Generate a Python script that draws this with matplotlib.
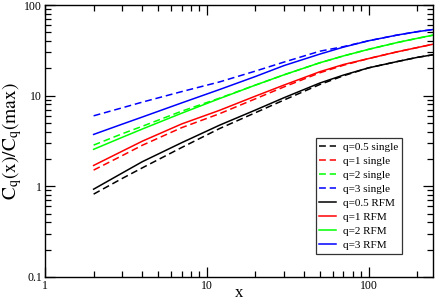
import matplotlib
matplotlib.use("Agg")
import matplotlib.pyplot as plt
from matplotlib.ticker import LogLocator, NullFormatter, FuncFormatter

plt.rcParams['font.family'] = ['Liberation Serif', 'DejaVu Serif']
plt.rcParams['mathtext.fontset'] = 'stix'

# values
x = [2, 3, 4, 7, 12, 20, 30, 50, 70, 100, 150, 200, 250]

single_05 = [0.82, 1.22, 1.60, 2.68, 4.34, 6.5, 8.96, 13.3, 16.6, 20.3, 23.8, 26.5, 28.3]
single_1 = [1.51, 2.18, 2.84, 4.44, 6.33, 9.25, 12.5, 17.9, 21.7, 25.7, 30.5, 34, 37]
single_2 = [2.85, 3.8, 4.6, 6.75, 9.4, 13.1, 17.0, 23.1, 27.5, 32.5, 38.6, 43, 46.6]
single_3 = [6.0, 7.35, 8.5, 11.1, 14.2, 18.7, 23.5, 31.0, 34.8, 40.4, 46.7, 50.9, 53.8]

rfm_05 = [0.93, 1.40, 1.87, 3.03, 4.73, 6.95, 9.5, 13.8, 16.9, 20.3, 23.8, 26.5, 28.3]
rfm_1 = [1.70, 2.44, 3.15, 4.88, 6.9, 9.9, 13.1, 18.4, 22.1, 25.7, 30.5, 34, 37]
rfm_2 = [2.56, 3.47, 4.29, 6.41, 9.3, 13.1, 17.0, 23.1, 27.5, 32.5, 38.6, 43, 46.6]
rfm_3 = [3.74, 4.85, 5.82, 8.33, 11.7, 16.3, 21.5, 28.8, 34.4, 40.4, 46.7, 50.9, 53.8]

q_labels = ["0.5", "1", "2", "3"]
colors = ["black", "red", "#00ff00", "blue"]

fig = plt.figure(figsize=(4.36, 3.01), dpi=100)
ax = fig.add_axes([0.103, 0.080, 0.890, 0.903])

for ys, q, c in zip([single_05, single_1, single_2, single_3], q_labels, colors):
    ax.plot(x, ys, color=c, lw=1.1, dashes=(4.5, 2.5), label=f"q={q} single")
for ys, q, c in zip([rfm_05, rfm_1, rfm_2, rfm_3], q_labels, colors):
    ax.plot(x, ys, color=c, lw=1.1, label=f"q={q} RFM")

ax.set_xscale("log")
ax.set_yscale("log")
ax.set_xlim(1, 250)
ax.set_ylim(0.1, 100)

fmt = FuncFormatter(lambda v, p: f"{v:g}")
ax.xaxis.set_major_locator(LogLocator(base=10))
ax.yaxis.set_major_locator(LogLocator(base=10))
ax.xaxis.set_major_formatter(fmt)
ax.yaxis.set_major_formatter(fmt)
ax.xaxis.set_minor_locator(LogLocator(base=10, subs=range(2, 10)))
ax.yaxis.set_minor_locator(LogLocator(base=10, subs=range(2, 10)))
ax.xaxis.set_minor_formatter(NullFormatter())
ax.yaxis.set_minor_formatter(NullFormatter())

ax.tick_params(which="both", direction="in", top=True, right=True, labelsize=8.5, width=0.9, pad=2)
ax.tick_params(which="major", length=7)
ax.tick_params(which="minor", length=4)
for s in ax.spines.values():
    s.set_linewidth(1.0)

ax.set_xlabel("x", fontsize=12, labelpad=-5)
ax.set_ylabel(r"$\mathrm{C_q(x)/C_q(max)}$", fontsize=14, labelpad=0)

leg = ax.legend(loc="lower right", bbox_to_anchor=(0.92, 0.085), fontsize=8,
                frameon=True, fancybox=False, handlelength=1.5, handletextpad=0.6,
                labelspacing=0.38, borderpad=0.35, borderaxespad=0)
leg.get_frame().set_edgecolor("black")
leg.get_frame().set_linewidth(0.9)

fig.savefig("out.png", dpi=100)
